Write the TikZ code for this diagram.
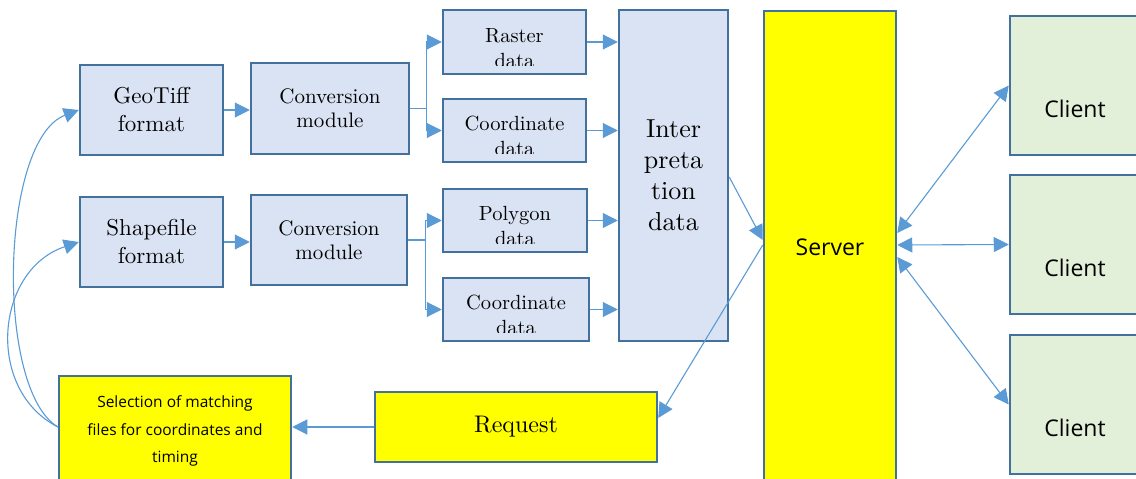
\documentclass[tikz,border=0pt]{standalone}
\usepackage{fontspec}
\setmainfont{lmroman10-regular.otf}
\newfontfamily\uisans{Open Sans}
\usetikzlibrary{arrows.meta}
\definecolor{linkblue}{HTML}{5B9BD5}
\definecolor{boxborder}{HTML}{41719C}
\definecolor{fillblue}{HTML}{DAE3F3}
\definecolor{fillgreen}{HTML}{E2F0D9}
\definecolor{hiyellow}{HTML}{FFFF00}
\newcommand{\databox}[7]{%
  \node[bluebox, minimum width=#4, minimum height=#5] (#1) at (#2,#3) {};
  \begin{scope}
    \clip (#1.north west) rectangle ([yshift=10pt]#1.south east);
    \node[datatext, anchor=base] (#1-a) at (#1.center) {#6};
    \node[datatext, anchor=base] (#1-b) at ([yshift=-25pt]#1-a.base) {#7};
  \end{scope}}
\begin{document}
\begin{tikzpicture}[x=1pt,y=-1pt,
  box/.style={draw=boxborder, line width=2.5pt, inner sep=0pt, align=center},
  bluebox/.style={box, fill=fillblue},
  yellowbox/.style={box, fill=hiyellow},
  greenbox/.style={box, fill=fillgreen},
  fmttext/.style={font=\fontsize{23}{28}\selectfont},
  convtext/.style={font=\fontsize{21}{24}\selectfont},
  datatext/.style={font=\fontsize{20.5}{24}\selectfont, inner sep=0pt},
  interptext/.style={font=\fontsize{26}{31}\selectfont},
  sanstext/.style={font=\uisans\fontsize{23}{28}\selectfont},
  seltext/.style={font=\uisans\fontsize{15.5}{27.5}\selectfont},
  reqtext/.style={font=\fontsize{24}{28}\selectfont},
  tip/.tip={Triangle[length=15pt,width=15pt]},
  conn/.style={draw=linkblue, line width=1.1pt, -tip},
  biconn/.style={draw=linkblue, line width=1.1pt, tip-tip},
]
\useasboundingbox (0,0) rectangle (1136,479);

% format boxes
\node[bluebox, fmttext, minimum width=143pt, minimum height=90pt] (geo) at (151.5,110) {GeoTiff\\format};
\node[bluebox, fmttext, minimum width=143pt, minimum height=90pt] (shp) at (151.5,242) {Shapefile\\format};

% conversion modules
\node[bluebox, convtext, minimum width=158pt, minimum height=91pt] (conv1) at (330,108.5) {Conversion\\module};
\node[bluebox, convtext, minimum width=156pt, minimum height=90pt] (conv2) at (329,240) {Conversion\\module};

% data boxes (text clipped as in the reference)
\databox{raster}{514.5}{42}{143pt}{64pt}{Raster}{data}
\databox{coordA}{514.5}{130.5}{143pt}{63pt}{Coordinate}{data}
\databox{poly}{515}{220.5}{144pt}{63pt}{Polygon}{data}
\databox{coordB}{516}{309.5}{146pt}{63pt}{Coordinate}{data}

% interpretation
\node[bluebox, interptext, minimum width=109pt, minimum height=331pt] (interp) at (673.5,175.5) {Inter\\preta\\tion\\data};

% server
\node[yellowbox, sanstext, minimum width=132pt, minimum height=472pt] (server) at (830,247) {Server};

% clients
\node[greenbox, minimum width=130pt, minimum height=139pt, label={[sanstext, yshift=-23pt]center:Client}] (client1) at (1075,85.5) {};
\node[greenbox, minimum width=130pt, minimum height=139pt, label={[sanstext, yshift=-23pt]center:Client}] (client2) at (1075,244.5) {};
\node[greenbox, minimum width=130pt, minimum height=139pt, label={[sanstext, yshift=-23pt]center:Client}] (client3) at (1075,404.5) {};

% selection and request
\node[yellowbox, seltext, minimum width=232pt, minimum height=110pt] (sel) at (175,431) {Selection of matching\\files for coordinates and\\timing};
\node[yellowbox, reqtext, minimum width=282pt, minimum height=70pt] (req) at (516,427) {Request};

% connectors
\draw[conn] (geo) -- (conv1.west |- geo);
\draw[conn] (shp) -- (conv2.west |- shp);

\draw[conn] (conv1.east) -- ++(16,0) |- (raster.west);
\draw[conn] (conv1.east) -- ++(16,0) |- (coordA.west);
\draw[conn] (conv2.east) -- ++(17,0) |- (poly.west);
\draw[conn] (conv2.east) -- ++(17,0) |- (coordB.west);

\draw[conn] (raster.east) -- (interp.west |- raster.east);
\draw[conn] (coordA.east) -- (interp.west |- coordA.east);
\draw[conn] (poly.east) -- (interp.west |- poly.east);
\draw[conn] (coordB.east) -- (interp.west |- coordB.east);

\draw[conn] ([yshift=-1.5pt]interp.east) -- ([yshift=7pt]server.west);
\draw[conn] ([yshift=2pt]server.west) -- ([yshift=9pt]req.east);

\draw[biconn] ([yshift=14pt]server.east) -- (client1.west);
\draw[biconn] ([yshift=2pt]server.east) -- (client2.west);
\draw[biconn] ([yshift=-10pt]server.east) -- (client3.west);

\draw[conn] (req.west |- 0,427) -- (sel.east |- 0,427);
\coordinate (selout) at (58,427);
\draw[conn] (selout) .. controls (-5,390) and (0,140) .. (geo.west);
\draw[conn] (selout) .. controls (-15,390) and (-5,270) .. (shp.west);
\end{tikzpicture}
\end{document}
